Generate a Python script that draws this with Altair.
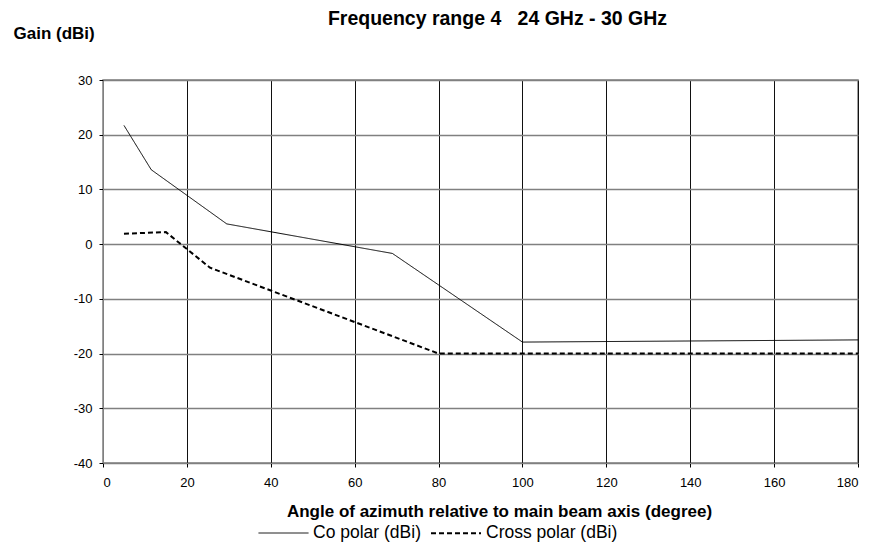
import altair as alt
import pandas as pd

series_names = ["Co polar (dBi)", "Cross polar (dBi)"]

co_angle = [5, 11.5, 29.5, 69, 100, 180]
co_gain = [21.7, 13.6, 3.7, -1.7, -17.9, -17.5]

cross_angle = [5, 15, 25.5, 80, 180]
cross_gain = [1.9, 2.2, -4.3, -20.0, -20.0]

x_ticks = list(range(0, 181, 20))
y_ticks = list(range(-40, 31, 10))

rows = []
for i, (a, g) in enumerate(zip(co_angle, co_gain)):
    rows.append({"series": series_names[0], "angle": a, "gain": g, "idx": i})
for i, (a, g) in enumerate(zip(cross_angle, cross_gain)):
    rows.append({"series": series_names[1], "angle": a, "gain": g, "idx": i})
df = pd.DataFrame(rows)

FONT = "Liberation Sans"

legend_kw = dict(title=None, orient="none", direction="horizontal",
                 legendX=155, legendY=427, symbolType="stroke",
                 symbolSize=2500, symbolStrokeColor="black",
                 labelFontSize=17.5, labelOffset=4, columnPadding=6,
                 labelColor="black")

chart = alt.Chart(df).mark_line(color="black").encode(
    x=alt.X("angle:Q",
            scale=alt.Scale(domain=[0, 180], nice=False, zero=False),
            axis=alt.Axis(values=x_ticks, title="Angle of azimuth relative to main beam axis (degree)",
                          titleFontSize=17, titleFontWeight="bold", titlePadding=14, titleX=396,
                          labelFontSize=13, labelPadding=9, tickSize=4,
                          labelExpr="toString(datum.value)")),
    y=alt.Y("gain:Q",
            scale=alt.Scale(domain=[-40, 30], nice=False, zero=False),
            axis=alt.Axis(values=y_ticks, title="Gain (dBi)", titleAngle=0,
                          titleX=-90, titleY=-42, titleAlign="left", titleBaseline="alphabetic",
                          titleFontSize=17, titleFontWeight="bold",
                          labelFontSize=13, labelPadding=7, tickSize=4,
                          labelExpr="toString(datum.value)")),
    strokeDash=alt.StrokeDash("series:N",
                              scale=alt.Scale(domain=series_names, range=[[1, 0], [5, 3]]),
                              legend=alt.Legend(**legend_kw)),
    strokeWidth=alt.StrokeWidth("series:N",
                                scale=alt.Scale(domain=series_names, range=[1, 2]),
                                legend=alt.Legend(**legend_kw)),
    order="idx:Q",
).properties(
    width=755,
    height=383,
    title=alt.TitleParams(text="Frequency range 4\u00a0\u00a0\u00a024 GHz - 30 GHz",
                          fontSize=19.5, fontWeight="bold", offset=-20, dx=17, anchor="middle",
                          baseline="alphabetic", color="black"),
    autosize=alt.AutoSizeParams(type="none"),
    padding={"left": 95, "top": 72, "right": 6, "bottom": 81},
).configure(
    font=FONT,
).configure_axis(
    gridColor="#111111", gridWidth=1, gridOpacity=1,
    domainColor="#808080", tickColor="black", labelColor="black", titleColor="black",
).configure_axisY(
    gridColor="#808080", gridWidth=1.5,
).configure_view(
    stroke="#808080", strokeWidth=1.5,
)

chart.save("out.html", embed_options={"renderer": "svg", "actions": False})
